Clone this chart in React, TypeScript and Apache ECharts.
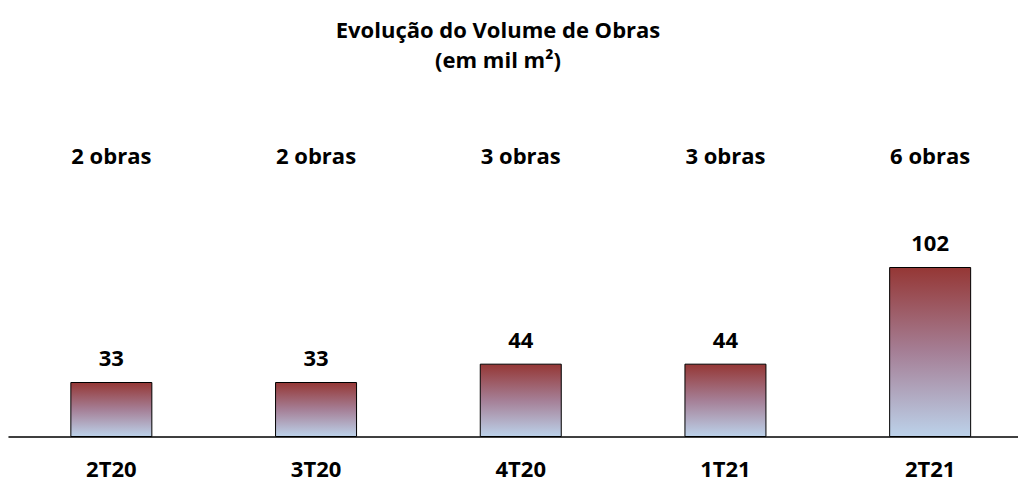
import React, { useEffect, useRef } from "react";
import * as echarts from "echarts";

const categories = ["2T20", "3T20", "4T20", "1T21", "2T21"];
const volumes = [33, 33, 44, 44, 102];
const obras = ["2 obras", "2 obras", "3 obras", "3 obras", "6 obras"];
const titleLines = ["Evolução do Volume de Obras", "(em mil m²)"];

const FONT = "Open Sans";
const FS = 22;

export default function App() {
  const ref = useRef<HTMLDivElement>(null);
  useEffect(() => {
    if (!ref.current) return;
    const chart = echarts.init(ref.current, undefined, { renderer: "svg" });
    const obrasLevel = 169;
    chart.setOption({
      animation: false,
      backgroundColor: "#ffffff",
      title: {
        text: titleLines.join("\n"),
        left: 493,
        textAlign: "center",
        top: 9,
        textStyle: {
          fontFamily: FONT,
          fontWeight: "bold",
          fontSize: FS,
          color: "#000",
          lineHeight: 30,
        },
      },
      grid: { left: 9, right: 7.5, top: 137, bottom: 45 },
      xAxis: {
        type: "category",
        data: categories,
        axisLine: { show: true, lineStyle: { color: "#000", width: 1.5 } },
        axisTick: { show: false },
        axisLabel: {
          margin: 20,
          fontFamily: FONT,
          fontWeight: "bold",
          fontSize: FS,
          color: "#000",
        },
      },
      yAxis: {
        type: "value",
        min: 0,
        max: 180,
        show: false,
        splitLine: { show: false },
      },
      series: [
        {
          type: "bar",
          data: volumes,
          barWidth: 82,
          itemStyle: {
            borderColor: "#000",
            borderWidth: 1,
            color: new echarts.graphic.LinearGradient(0, 0, 0, 1, [
              { offset: 0, color: "#953735" },
              { offset: 0.5, color: "#A57F96" },
              { offset: 1, color: "#BCD2EA" },
            ]),
          },
          label: {
            show: true,
            position: "top",
            distance: 14,
            fontFamily: FONT,
            fontWeight: "bold",
            fontSize: FS,
            color: "#000",
          },
        },
        {
          type: "scatter",
          data: obras.map(() => obrasLevel),
          symbolSize: 1,
          silent: true,
          itemStyle: { opacity: 1, color: "rgba(0,0,0,0)" },
          label: {
            show: true,
            position: "inside",
            formatter: (p: any) => obras[p.dataIndex],
            fontFamily: FONT,
            fontWeight: "bold",
            fontSize: FS,
            color: "#000",
          },
        },
      ],
    });
    return () => chart.dispose();
  }, []);
  return (
    <div
      style={{
        position: "fixed",
        left: 0,
        top: 0,
        width: 1018,
        height: 482,
        overflow: "hidden",
        background: "#fff",
      }}
    >
      <div ref={ref} style={{ width: 1040, height: 482 }} />
    </div>
  );
}
